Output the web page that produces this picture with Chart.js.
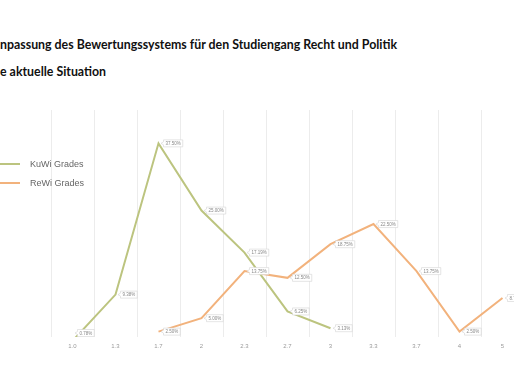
<!DOCTYPE html>
<html>
<head>
<meta charset="utf-8">
<script src="https://cdn.jsdelivr.net/npm/chart.js@4.4.1/dist/chart.umd.min.js"></script>
<style>
  html, body { margin: 0; padding: 0; background: #fff; }
  #page { position: relative; width: 514px; height: 386px; overflow: hidden; background: #fff; }
  .title { position: absolute; left: 0; font-family: "Lato", "Open Sans", sans-serif; font-weight: 700; font-size: 14px; line-height: 16px; color: #111; white-space: nowrap; transform-origin: 0 0; }
  #chartBox { position: absolute; left: 0; top: 100px; width: 530px; height: 265px; }
  .leg { position: absolute; left: 0; height: 14px; font-family: "Liberation Sans", Arial, sans-serif; font-size: 9px; color: #666; white-space: nowrap; }
  .leg .sw { position: absolute; left: 0; top: 6px; width: 20px; height: 2px; }
  .leg .tx { position: absolute; left: 30px; top: 1px; line-height: 12px; }
</style>
</head>
<body>
<div id="page">
  <div class="title" id="t1" style="top:36px">npassung des Bewertungssystems für den Studiengang Recht und Politik</div>
  <div class="title" id="t2" style="top:63px">e aktuelle Situation</div>
  <div id="chartBox"><canvas id="c" width="530" height="265"></canvas></div>
  <div class="leg" id="leg0" style="top:157px"><div class="sw"></div><div class="tx"></div></div>
  <div class="leg" id="leg1" style="top:176px"><div class="sw"></div><div class="tx"></div></div>
</div>
<script>
const categories = ["1.0", "1.3", "1.7", "2", "2.3", "2.7", "3", "3.3", "3.7", "4", "5"];
const kuwiValues = [0.78, 9.38, 37.50, 25.00, 17.19, 6.25, 3.13, null, null, null, null];
const rewiValues = [null, null, 2.50, 5.00, 13.75, 12.50, 18.75, 22.50, 13.75, 2.50, 8.75];
const seriesNames = ["KuWi Grades", "ReWi Grades"];
const seriesColors = ["#bcc47f", "#f2b27c"];

// fit the title width like the reference
(function () {
  const t1 = document.getElementById('t1');
  const t2 = document.getElementById('t2');
  const w = t1.getBoundingClientRect().width;
  const s = 397 / w;
  t1.style.transform = 'scaleX(' + s + ')';
  t2.style.transform = 'scaleX(' + s + ')';
})();

// legend (HTML)
seriesNames.forEach((n, i) => {
  const el = document.getElementById('leg' + i);
  el.querySelector('.sw').style.background = seriesColors[i];
  el.querySelector('.tx').textContent = n;
});

const valueLabels = {
  id: 'valueLabels',
  afterDatasetsDraw(chart) {
    const ctx = chart.ctx;
    const area = chart.chartArea;
    ctx.save();
    ctx.font = '4.5px "Liberation Sans", Arial, sans-serif';
    ctx.textBaseline = 'middle';
    chart.data.datasets.forEach((ds, di) => {
      const meta = chart.getDatasetMeta(di);
      meta.data.forEach((pt, i) => {
        const v = ds.data[i];
        if (v === null || v === undefined) return;
        const txt = v.toFixed(2) + '%';
        const tw = ctx.measureText(txt).width;
        const x = pt.x + 5;
        let y = Math.min(pt.y, area.bottom - 4);
        const h = 7, pad = 2;
        const w = tw + pad * 2;
        ctx.fillStyle = '#ffffff';
        ctx.strokeStyle = '#d4d4d4';
        ctx.lineWidth = 0.6;
        ctx.beginPath();
        ctx.moveTo(x, y - h / 2);
        ctx.lineTo(x + w, y - h / 2);
        ctx.lineTo(x + w, y + h / 2);
        ctx.lineTo(x, y + h / 2);
        ctx.lineTo(x, y + 1.5);
        ctx.lineTo(x - 2.5, y);
        ctx.lineTo(x, y - 1.5);
        ctx.closePath();
        ctx.fill();
        ctx.stroke();
        ctx.fillStyle = '#888';
        ctx.fillText(txt, x + pad, y + 0.3);
      });
    });
    ctx.restore();
  }
};

new Chart(document.getElementById('c'), {
  type: 'line',
  data: {
    labels: categories,
    datasets: [
      { label: seriesNames[0], data: kuwiValues, borderColor: seriesColors[0], backgroundColor: seriesColors[0], borderWidth: 2, pointRadius: 0, tension: 0, fill: false },
      { label: seriesNames[1], data: rewiValues, borderColor: seriesColors[1], backgroundColor: seriesColors[1], borderWidth: 2, pointRadius: 0, tension: 0, fill: false }
    ]
  },
  options: {
    responsive: false,
    animation: false,
    devicePixelRatio: 1,
    layout: { padding: { left: 51, right: 6, top: 10, bottom: 8.8 } },
    plugins: { legend: { display: false }, tooltip: { enabled: false } },
    scales: {
      x: {
        offset: true,
        grid: { display: true, offset: true, color: '#ececec', lineWidth: 1, drawTicks: false },
        border: { display: false },
        ticks: { color: '#9a9a9a', font: { size: 6, family: '"Liberation Sans", Arial, sans-serif' }, padding: 6, maxRotation: 0, autoSkip: false }
      },
      y: {
        display: false,
        min: 1.5,
        max: 43.7
      }
    }
  },
  plugins: [valueLabels]
});
</script>
</body>
</html>
